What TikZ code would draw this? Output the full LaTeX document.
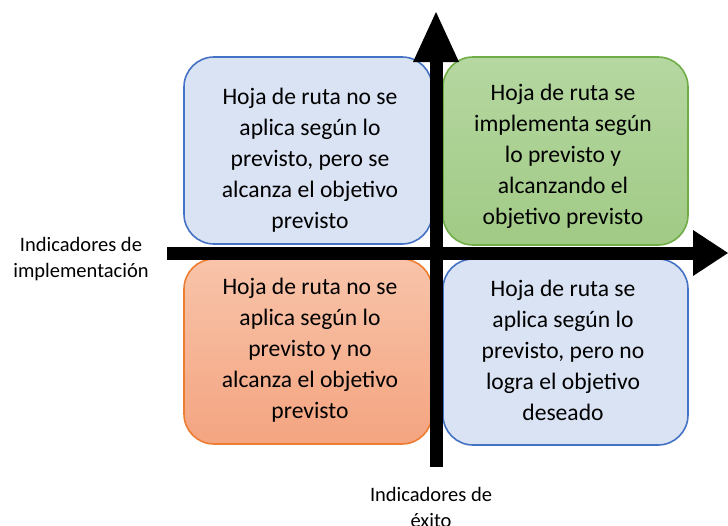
\documentclass[tikz,border=0pt]{standalone}
\usepackage{fontspec}
\setmainfont{Carlito}
\usetikzlibrary{arrows.meta}
\definecolor{bluefill}{HTML}{DAE3F3}
\definecolor{bluedraw}{HTML}{4472C4}
\definecolor{greentop}{HTML}{B5D7A1}
\definecolor{greenbot}{HTML}{A1CA85}
\definecolor{greendraw}{HTML}{70AD47}
\definecolor{orangetop}{HTML}{F8C4AA}
\definecolor{orangebot}{HTML}{F4A480}
\definecolor{orangedraw}{HTML}{ED7D31}
\tikzset{
  quad/.style={rounded corners=30pt, line width=1.6pt},
  qtext/.style={align=center, font=\fontsize{23.6}{31}\selectfont, text=black},
  axlabel/.style={align=center, font=\fontsize{20.5}{26}\selectfont, text=black},
  axis/.style={fill=black}
}
\begin{document}
\begin{tikzpicture}[x=1pt,y=-1pt]
\useasboundingbox (0,0) rectangle (728,525);
% boxes
\draw[quad, draw=bluedraw, fill=bluefill] (184,57) rectangle (432,244);
\draw[quad, draw=greendraw, top color=greentop, bottom color=greenbot] (443,57) rectangle (688,245);
\draw[quad, draw=orangedraw, top color=orangetop, bottom color=orangebot] (184,259) rectangle (432,444);
\draw[quad, draw=bluedraw, fill=bluefill] (443,259) rectangle (688,445);
% texts
\node[qtext] (tl) at (310,160) {Hoja de ruta no se\\aplica según lo\\previsto, pero se\\alcanza el objetivo\\previsto};
\node[qtext] (tr) at (563,156) {Hoja de ruta se\\implementa según\\lo previsto y\\alcanzando el\\objetivo previsto};
\node[qtext] (bl) at (310,350) {Hoja de ruta no se\\aplica según lo\\previsto y no\\alcanza el objetivo\\previsto};
\node[qtext] (br) at (563,350) {Hoja de ruta se\\aplica según lo\\previsto, pero no\\logra el objetivo\\deseado};
% axes
\coordinate (hstart) at (167,253);
\coordinate (htip) at (728,253);
\coordinate (vstart) at (436,467);
\coordinate (vtip) at (436,12);
\fill[axis] (167,246.5) rectangle (694,259.5);
\fill[axis] (693,230) -- (htip) -- (693,276) -- cycle;
\fill[axis] (429.5,467) rectangle (442.5,61);
\fill[axis] (413,62) -- (vtip) -- (459,62) -- cycle;
% labels
\node[axlabel] (xl) at (81,259) {Indicadores de\\implementación};
\node[axlabel] (yl) at (431,507) {Indicadores de\\éxito};
\end{tikzpicture}
\end{document}
